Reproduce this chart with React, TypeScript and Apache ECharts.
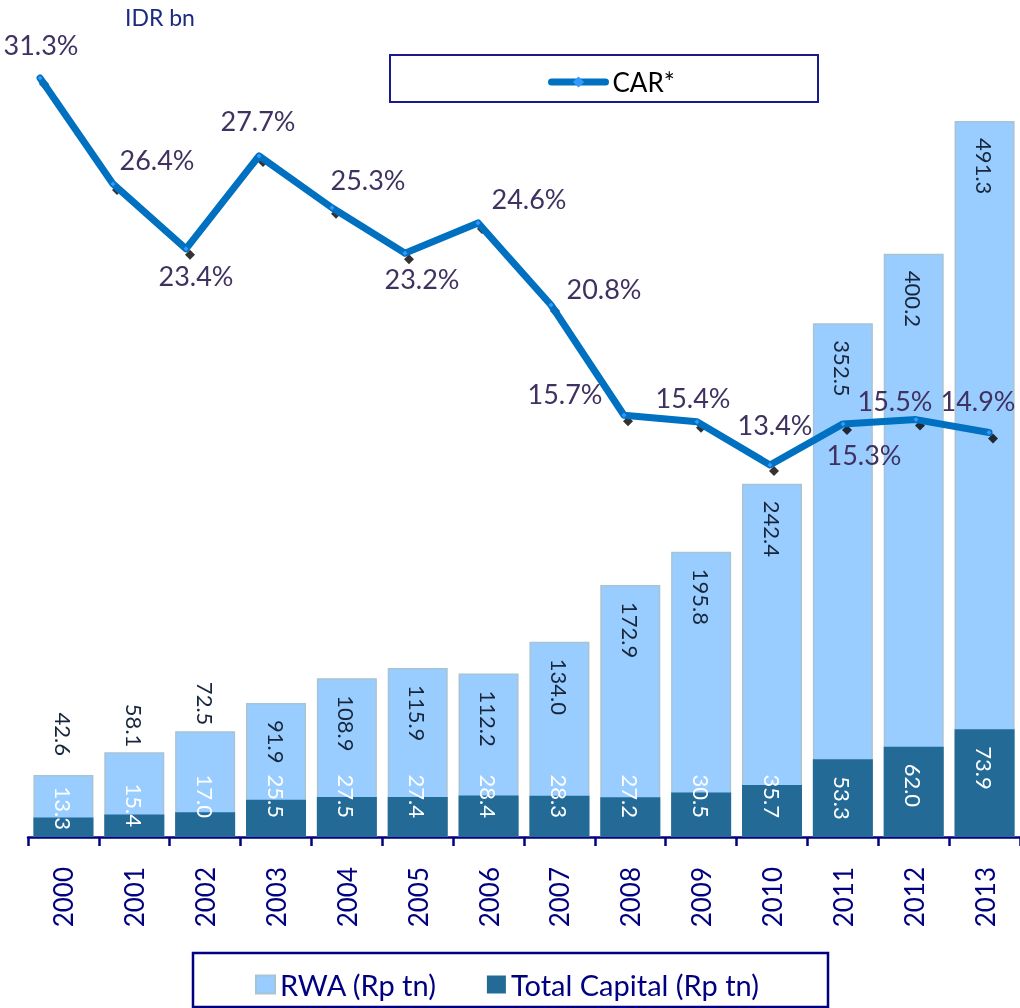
import React, { useEffect, useRef } from "react";
import * as echarts from "echarts";

const years = ["2000","2001","2002","2003","2004","2005","2006","2007","2008","2009","2010","2011","2012","2013"];
const rwa = [42.6, 58.1, 72.5, 91.9, 108.9, 115.9, 112.2, 134.0, 172.9, 195.8, 242.4, 352.5, 400.2, 491.3];
const capital = [13.3, 15.4, 17.0, 25.5, 27.5, 27.4, 28.4, 28.3, 27.2, 30.5, 35.7, 53.3, 62.0, 73.9];
const car = [31.3, 26.4, 23.4, 27.7, 25.3, 23.2, 24.6, 20.8, 15.7, 15.4, 13.4, 15.3, 15.5, 14.9];
// label placement offsets for CAR labels (dx, dy from point)
const carLabelOffsets = [[1,-34],[44,-24],[10,27],[-1,-35],[36,-28],[17,25],[51,-24],[53,-17],[-59,-22],[-4,-24],[5,-40],[21,31],[-21,-19],[-11,-32]];
const rwaOutside = [19, 5, 6]; // distances for labels above small bars
const capBottomDist = [7, 10, 19, 19, 19, 19, 19, 19, 19, 19, 19];

const FONT = "Lato, 'Open Sans', sans-serif";
const NAVY = "#000080";

export default function App() {
  const ref = useRef<HTMLDivElement>(null);
  useEffect(() => {
    const chart = echarts.init(ref.current!, null, { renderer: "svg" });
    const fmt1 = (p: any) => Number(p.value).toFixed(1);

    const rwaData = rwa.map((v, i) => ({
      value: v,
      label: i < 3
        ? { position: "top", distance: rwaOutside[i], align: "right", verticalAlign: "middle" }
        : { position: "insideTop", distance: 17, align: "left", verticalAlign: "middle" },
    }));
    const capData = capital.map((v, i) => ({
      value: v,
      label: i < 11
        ? { position: "insideBottom", distance: capBottomDist[i], align: "right", verticalAlign: "middle" }
        : { position: "insideTop", distance: 17, align: "left", verticalAlign: "middle" },
    }));
    const carData = car.map((v, i) => ({
      value: v,
      label: { position: "inside", offset: carLabelOffsets[i] },
    }));

    chart.setOption({
      animation: false,
      textStyle: { fontFamily: FONT },
      grid: [
        { left: 28, width: 995, top: 21, height: 816 },
        { left: 40, width: 949, top: 21, height: 816 },
      ],
      xAxis: [
        {
          type: "category", gridIndex: 0, data: years,
          axisLine: { lineStyle: { color: NAVY, width: 2.5 } },
          axisTick: { show: true, length: 9, lineStyle: { color: NAVY, width: 2.5 } },
          axisLabel: { rotate: 90, margin: 30, fontSize: 26, color: NAVY, fontFamily: FONT },
        },
        { type: "category", gridIndex: 1, data: years, boundaryGap: false, show: false },
      ],
      yAxis: [
        { type: "value", gridIndex: 0, min: 0, max: 560, show: false, splitLine: { show: false } },
        { type: "value", gridIndex: 1, min: -3.81, max: 33.94, show: false, splitLine: { show: false } },
      ],
      legend: [
        {
          data: ["CAR*"], left: 543, top: 64, itemWidth: 54, itemHeight: 14, itemGap: 4,
          lineStyle: { width: 7, cap: "round" },
          textStyle: { fontSize: 26, color: "#000", fontFamily: FONT, padding: [0, 0, 0, 2] },
        },
        {
          data: ["RWA (Rp tn)", "Total Capital (Rp tn)"], left: 250, top: 965,
          itemWidth: 19, itemHeight: 18, itemGap: 50, icon: "rect",
          textStyle: { fontSize: 29, color: NAVY, fontFamily: FONT },
        },
      ],
      graphic: [
        { type: "rect", shape: { x: 390, y: 55, width: 428, height: 47 }, style: { fill: "none", stroke: "#1a1a8c", lineWidth: 2 }, z: 0 },
        { type: "rect", shape: { x: 193, y: 953, width: 635, height: 54 }, style: { fill: "none", stroke: NAVY, lineWidth: 2.5 }, z: 0 },
        { type: "text", left: 125, top: 5, style: { text: "IDR bn", fontSize: 23, fill: "#1c2a80", fontFamily: FONT } },
      ],
      series: [
        {
          name: "RWA (Rp tn)", type: "bar", xAxisIndex: 0, yAxisIndex: 0, data: rwaData,
          barWidth: 60, barGap: "-100%", z: 2,
          itemStyle: { color: "#99ccff", borderColor: "#a7c4d4", borderWidth: 1.5 },
          label: { show: true, rotate: -90, fontSize: 22, color: "#17263a", fontFamily: FONT, formatter: fmt1 },
        },
        {
          name: "Total Capital (Rp tn)", type: "bar", xAxisIndex: 0, yAxisIndex: 0, data: capData,
          barWidth: 60, barGap: "-100%", z: 2,
          itemStyle: { color: "#236b96" },
          label: { show: true, rotate: -90, fontSize: 22, color: "#ffffff", fontFamily: FONT, formatter: fmt1 },
        },
        {
          name: "shadow", type: "scatter", xAxisIndex: 1, yAxisIndex: 1, data: car,
          symbol: "diamond", symbolSize: 10, symbolOffset: [4, 6], z: 3,
          itemStyle: { color: "#000000" }, silent: true,
        },
        {
          name: "CAR*", type: "line", xAxisIndex: 1, yAxisIndex: 1, data: carData, z: 4,
          symbol: "diamond", symbolSize: 5, showSymbol: true,
          lineStyle: { color: "#0070c0", width: 7, cap: "round", join: "round" },
          itemStyle: { color: "#3399ff" },
          label: {
            show: true, fontSize: 27, color: "#3f3160", fontFamily: FONT,
            formatter: (p: any) => Number(p.value).toFixed(1) + "%",
          },
        },
      ],
    });
    return () => chart.dispose();
  }, []);
  return <div ref={ref} style={{ position: "fixed", left: 0, top: 0, width: 1020, height: 1008 }} />;
}
